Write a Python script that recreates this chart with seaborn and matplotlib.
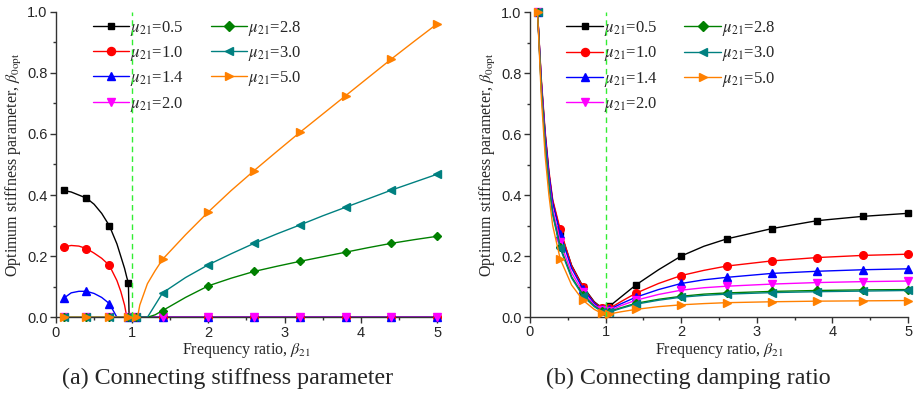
import numpy as np
import pandas as pd
import matplotlib
matplotlib.use('Agg')
import matplotlib.pyplot as plt
from matplotlib.lines import Line2D
import seaborn as sns

# marker positions (frequency ratio)
x_mark = [0.1, 0.4, 0.7, 0.95, 1.05, 1.4, 2.0, 2.6, 3.2, 3.8, 4.4, 5.0]
mu_labels = ['0.5', '1.0', '1.4', '2.0', '2.8', '3.0', '5.0']

# (a) connecting stiffness parameter, curve
x_line_a = [0.1, 0.2, 0.3, 0.4, 0.5, 0.6, 0.7, 0.8, 0.85, 0.9, 0.93, 0.95, 0.96, 1.0,
            1.05, 1.07, 1.1, 1.2, 1.3, 1.4, 1.7, 2.0, 2.3, 2.6, 2.9, 3.2, 3.5, 3.8,
            4.1, 4.4, 4.7, 5.0]
a_mu05 = [0.415, 0.41, 0.40, 0.39, 0.37, 0.34, 0.30, 0.24, 0.20, 0.16, 0.13, 0.113, 0.0, 0.0,
          0, 0, 0, 0, 0, 0, 0, 0, 0, 0, 0, 0, 0, 0, 0, 0, 0, 0]
a_mu10 = [0.23, 0.235, 0.233, 0.225, 0.21, 0.193, 0.17, 0.12, 0.085, 0.04, 0.0, 0.0, 0.0, 0.0,
          0, 0, 0, 0, 0, 0, 0, 0, 0, 0, 0, 0, 0, 0, 0, 0, 0, 0]
a_mu14 = [0.062, 0.08, 0.085, 0.085, 0.078, 0.065, 0.045, 0.0, 0, 0, 0, 0, 0, 0,
          0, 0, 0, 0, 0, 0, 0, 0, 0, 0, 0, 0, 0, 0, 0, 0, 0, 0]
a_mu20 = [0, 0, 0, 0, 0, 0, 0, 0, 0, 0, 0, 0, 0, 0,
          0, 0, 0, 0, 0, 0, 0, 0, 0, 0, 0, 0, 0, 0, 0, 0, 0, 0]
a_mu28 = [0, 0, 0, 0, 0, 0, 0, 0, 0, 0, 0, 0, 0, 0,
          0, 0, 0, 0.0, 0.008, 0.022, 0.065, 0.103, 0.128, 0.15, 0.167, 0.183, 0.198, 0.213,
          0.228, 0.242, 0.254, 0.265]
a_mu30 = [0, 0, 0, 0, 0, 0, 0, 0, 0, 0, 0, 0, 0, 0,
          0, 0, 0, 0.0, 0.04, 0.08, 0.13, 0.172, 0.208, 0.242, 0.273, 0.302, 0.332, 0.36,
          0.388, 0.416, 0.442, 0.468]
a_mu50 = [0, 0, 0, 0, 0, 0, 0, 0, 0, 0, 0, 0, 0, 0,
          0, 0.0, 0.04, 0.11, 0.152, 0.19, 0.27, 0.345, 0.415, 0.48, 0.543, 0.605, 0.665, 0.725,
          0.785, 0.845, 0.903, 0.96]

# (b) connecting damping ratio
x_line_b = [0.1, 0.15, 0.2, 0.25, 0.3, 0.4, 0.55, 0.7, 0.85, 0.95, 1.05, 1.2, 1.4, 1.7,
            2.0, 2.3, 2.6, 3.2, 3.8, 4.4, 5.0]
b_mu05 = [1.0, 0.77, 0.60, 0.47, 0.38, 0.28, 0.17, 0.10, 0.05, 0.03, 0.035, 0.065, 0.105, 0.155,
          0.20, 0.232, 0.256, 0.29, 0.316, 0.33, 0.34]
b_mu10 = [1.0, 0.78, 0.61, 0.48, 0.385, 0.287, 0.168, 0.097, 0.048, 0.028, 0.028, 0.05, 0.078, 0.11,
          0.136, 0.153, 0.167, 0.184, 0.195, 0.202, 0.206]
b_mu14 = [1.0, 0.77, 0.60, 0.47, 0.375, 0.272, 0.16, 0.092, 0.045, 0.025, 0.025, 0.043, 0.065, 0.09,
          0.11, 0.122, 0.13, 0.143, 0.15, 0.155, 0.158]
b_mu20 = [1.0, 0.76, 0.58, 0.45, 0.355, 0.247, 0.145, 0.082, 0.04, 0.022, 0.02, 0.037, 0.055, 0.074,
          0.088, 0.096, 0.101, 0.108, 0.113, 0.116, 0.118]
b_mu28 = [1.0, 0.75, 0.57, 0.44, 0.34, 0.23, 0.132, 0.073, 0.036, 0.02, 0.018, 0.03, 0.045, 0.058,
          0.068, 0.075, 0.079, 0.084, 0.087, 0.089, 0.09]
b_mu30 = [1.0, 0.745, 0.565, 0.435, 0.335, 0.225, 0.128, 0.069, 0.034, 0.018, 0.016, 0.028, 0.042, 0.055,
          0.065, 0.071, 0.075, 0.08, 0.083, 0.085, 0.087]
b_mu50 = [1.0, 0.72, 0.53, 0.40, 0.30, 0.19, 0.105, 0.055, 0.025, 0.012, 0.01, 0.017, 0.025, 0.034,
          0.04, 0.044, 0.047, 0.05, 0.052, 0.053, 0.054]

colors = ['#000000', '#ff0000', '#0000ff', '#ff00ff', '#008000', '#008080', '#ff8000']
markers = ['s', 'o', '^', 'v', 'D', '<', '>']
msizes = [4.6, 5.5, 5.5, 5.5, 4.5, 5.5, 5.5]

sns.set_style('ticks')
plt.rcParams['font.family'] = ['Liberation Serif', 'DejaVu Serif']
plt.rcParams['mathtext.fontset'] = 'stix'

fig = plt.figure(figsize=(9.16, 3.94), dpi=100)
ax_a = fig.add_axes([0.0611, 0.1947, 0.416, 0.7756])
ax_b = fig.add_axes([0.5786, 0.1954, 0.4127, 0.774])


def draw_panel(ax, x_line, series):
    for i, ys in enumerate(series):
        sns.lineplot(x=x_line, y=ys, ax=ax, color=colors[i], lw=1.0, estimator=None,
                     sort=False, zorder=2 + i)
        xm = [x for x in x_line if x in x_mark]
        ym = [y for x, y in zip(x_line, ys) if x in x_mark]
        ax.plot(xm, ym, ls='none', marker=markers[i], ms=msizes[i], color=colors[i],
                mec=colors[i], clip_on=False, zorder=3 + i)
    ax.axvline(1.0, color='#33ee33', lw=1.0, ls=(0, (4, 3)), zorder=20)
    ax.set_xlim(0, 5)
    ax.set_ylim(0, 1.0)
    ax.set_xticks([0, 1, 2, 3, 4, 5])
    ax.set_xticks(np.arange(0.5, 5, 1.0), minor=True)
    ax.set_yticks([0.0, 0.2, 0.4, 0.6, 0.8, 1.0])
    ax.set_yticks(np.arange(0.1, 1.0, 0.2), minor=True)
    ax.set_yticklabels(['0.0', '0.2', '0.4', '0.6', '0.8', '1.0'])
    for lab in ax.get_xticklabels() + ax.get_yticklabels():
        lab.set_family(['Liberation Sans', 'DejaVu Sans'])
        lab.set_fontsize(10.5)
    ax.tick_params(which='major', direction='out', length=4, width=1, color='#333333', pad=2)
    ax.tick_params(which='minor', direction='out', length=2.5, width=1, color='#333333')
    sns.despine(ax=ax)
    for s in ['left', 'bottom']:
        ax.spines[s].set_color('#333333')
        ax.spines[s].set_linewidth(1.0)
    ax.set_xlabel(r'Frequency ratio, $\beta_{21}$', fontsize=11.5, labelpad=1)
    ax.set_ylabel(r'Optimum stiffness parameter, $\beta_{0\mathrm{opt}}$', fontsize=11.5, labelpad=2)

    handles = [Line2D([], [], color=colors[i], lw=1.0, marker=markers[i], ms=msizes[i] + 0.3)
               for i in range(7)]
    labels = [r'$\mu_{21}$=' + m for m in mu_labels]
    ax.legend(handles, labels, ncol=2, frameon=False, fontsize=12, loc='upper left',
              bbox_to_anchor=(0.07, 1.01), handlelength=2.2, handletextpad=0.05,
              labelspacing=0.38, columnspacing=1.6, borderaxespad=0.2)


draw_panel(ax_a, x_line_a, [a_mu05, a_mu10, a_mu14, a_mu20, a_mu28, a_mu30, a_mu50])
draw_panel(ax_b, x_line_b, [b_mu05, b_mu10, b_mu14, b_mu20, b_mu28, b_mu30, b_mu50])

fig.text(0.248, 0.04, '(a) Connecting stiffness parameter', ha='center', va='center', fontsize=17.3)
fig.text(0.751, 0.04, '(b) Connecting damping ratio', ha='center', va='center', fontsize=17.3)

fig.savefig('out.png', dpi=100)
